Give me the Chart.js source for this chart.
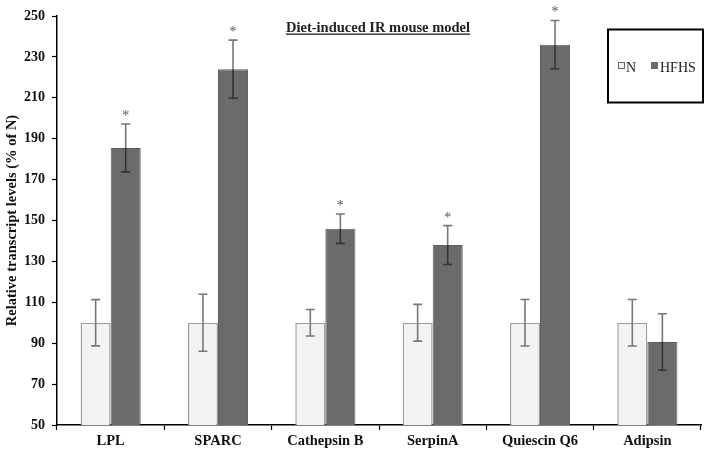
<!DOCTYPE html>
<html>
<head>
<meta charset="utf-8">
<script src="https://cdn.jsdelivr.net/npm/chart.js@4"></script>
<style>
  html, body { margin: 0; padding: 0; background: #fff; }
  #wrap { width: 708px; height: 459px; }
</style>
</head>
<body>
<div id="wrap"><canvas id="chart"></canvas></div>
<script>
/*
Data
*/
const categories = ["LPL", "SPARC", "Cathepsin B", "SerpinA", "Quiescin Q6", "Adipsin"];
const nValues = [100, 100, 100, 100, 100, 100];
const nErrors = [11.3, 13.9, 6.5, 9, 11.4, 11.4];
const hfhsValues = [185.5, 224, 146, 138, 236, 90.6];
const hfhsErrors = [11.7, 14.2, 7.2, 9.5, 11.8, 13.8];
const significant = [true, true, true, true, true, false];
const yTicks = [50, 70, 90, 110, 130, 150, 170, 190, 210, 230, 250];

const serif = "'Liberation Serif', 'Times New Roman', serif";

/*
Error bars, stars, title and legend
*/
const extras = {
    id: "extras",
    afterDatasetsDraw(chart) {
        const ctx = chart.ctx;
        const y = chart.scales.y;
        const errs = [nErrors, hfhsErrors];
        ctx.save();
        ctx.lineWidth = 1.6;
        chart.data.datasets.forEach((ds, i) => {
            const meta = chart.getDatasetMeta(i);
            meta.data.forEach((bar, j) => {
                const v = ds.data[j];
                const top = y.getPixelForValue(v + errs[i][j]);
                const bot = y.getPixelForValue(v - errs[i][j]);
                const mid = y.getPixelForValue(v);
                const x = bar.x;
                ctx.strokeStyle = "#777";
                ctx.beginPath();
                ctx.moveTo(x, top); ctx.lineTo(x, mid);
                ctx.moveTo(x - 4.5, top); ctx.lineTo(x + 4.5, top);
                ctx.stroke();
                ctx.strokeStyle = i == 1 ? "#333" : "#777";
                ctx.beginPath();
                ctx.moveTo(x, mid); ctx.lineTo(x, bot);
                ctx.moveTo(x - 4.5, bot); ctx.lineTo(x + 4.5, bot);
                ctx.stroke();
                if (i == 1 && significant[j]) {
                    ctx.fillStyle = "#555";
                    ctx.font = "14px " + serif;
                    ctx.textAlign = "center";
                    ctx.textBaseline = "alphabetic";
                    ctx.fillText("*", x, top - 4);
                }
            });
        });

        // title
        ctx.fillStyle = "#222";
        ctx.font = "bold 14.5px " + serif;
        ctx.textAlign = "center";
        ctx.textBaseline = "alphabetic";
        const title = "Diet-induced IR mouse model";
        ctx.fillText(title, 378, 32);
        const w = ctx.measureText(title).width;
        ctx.fillRect(378 - w / 2, 33.5, w, 1.3);

        // legend
        ctx.strokeStyle = "#000";
        ctx.lineWidth = 2;
        ctx.strokeRect(608, 29.5, 95, 73);
        ctx.lineWidth = 1;
        ctx.strokeStyle = "#666";
        ctx.fillStyle = "#f2f2f2";
        ctx.fillRect(618.5, 62.5, 6, 6);
        ctx.strokeRect(618.5, 62.5, 6, 6);
        ctx.fillStyle = "#6b6b6b";
        ctx.fillRect(651, 62, 7, 7);
        ctx.fillStyle = "#222";
        ctx.font = "14px " + serif;
        ctx.textAlign = "left";
        ctx.fillText("N", 626, 72);
        ctx.fillText("HFHS", 660, 72);
        ctx.restore();
    }
};

new Chart(document.getElementById("chart"), {
    type: "bar",
    data: {
        labels: categories,
        datasets: [
            {
                label: "N",
                data: nValues,
                backgroundColor: "#f3f3f3",
                borderColor: "#a0a0a0",
                borderWidth: 1.5,
                categoryPercentage: 0.56,
                barPercentage: 1.0
            },
            {
                label: "HFHS",
                data: hfhsValues,
                backgroundColor: "#6b6b6b",
                borderColor: "#5e5e5e",
                borderWidth: 1,
                categoryPercentage: 0.56,
                barPercentage: 1.0
            }
        ]
    },
    options: {
        responsive: true,
        maintainAspectRatio: false,
        animation: false,
        layout: { padding: { top: 16, right: 7, left: 0, bottom: 0 } },
        plugins: {
            legend: { display: false },
            tooltip: { enabled: false }
        },
        scales: {
            x: {
                grid: {
                    display: true,
                    drawOnChartArea: false,
                    color: "#000",
                    tickLength: 5,
                    tickWidth: 1.2
                },
                border: { color: "#000", width: 1.5 },
                ticks: {
                    color: "#111",
                    font: { family: serif, size: 14.5, weight: "bold" },
                    padding: 3
                },
                afterFit: (scale) => { scale.height = 34; }
            },
            y: {
                min: 50,
                max: 250,
                afterBuildTicks: (scale) => { scale.ticks = yTicks.map(v => ({ value: v })); },
                grid: {
                    display: true,
                    drawOnChartArea: false,
                    color: "#000",
                    tickLength: 5,
                    tickWidth: 1.2
                },
                border: { color: "#000", width: 1.5 },
                ticks: {
                    color: "#111",
                    font: { family: serif, size: 14, weight: "bold" },
                    padding: 7
                },
                title: {
                    display: true,
                    text: "Relative transcript levels (% of N)",
                    color: "#111",
                    font: { family: serif, size: 14.5, weight: "bold" },
                    padding: { top: 4, bottom: 0 }
                },
                afterFit: (scale) => { scale.width = 57; }
            }
        }
    },
    plugins: [extras]
});
</script>
</body>
</html>
